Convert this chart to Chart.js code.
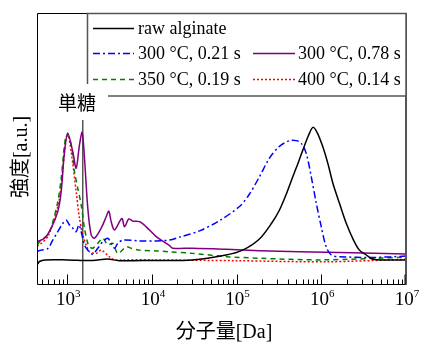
<!DOCTYPE html>
<html>
<head>
<meta charset="utf-8">
<script src="https://cdn.jsdelivr.net/npm/chart.js@4/dist/chart.umd.min.js"></script>
<style>
    html, body { margin: 0; padding: 0; background: #fff; }
    canvas { display: block; }
</style>
</head>
<body>
<canvas id="gpc" width="421" height="343"></canvas>
<script>
(function () {
    'use strict';

    // ── Data (molecular weight [Da] / intensity [a.u.]) ──────────────────────
    var SERIES_LABELS = ['raw alginate', '300 °C, 0.21 s', '300 °C, 0.78 s', '350 °C, 0.19 s', '400 °C, 0.14 s'];

    var rawM = [440, 470, 550, 1000, 2000, 3000, 4100, 10000, 30000, 75000, 118000, 186000, 260000, 321000, 390000,
                461000, 530000, 605000, 700000, 795000, 900000, 1040000, 1200000, 1370000, 1650000, 1970000,
                2400000, 2820000, 3400000, 4060000, 6000000, 10000000];
    var rawI = [7.0, 8.3, 8.9, 8.9, 8.7, 9.2, 8.6, 8.7, 8.9, 10.7, 12.5, 16.6, 22.5, 27.3, 33.5,
                39.6, 44.5, 49.4, 54.5, 57.8, 55.7, 50.7, 44.3, 37.2, 29.5, 22.4,
                16.2, 12.5, 10.7, 9.1, 8.9, 8.9];

    var t300sM = [440, 493, 590, 676, 774, 888, 973, 1065, 1164, 1276, 1371, 1462, 1600, 1750, 2005, 2297, 2632,
                  3014, 3306, 3616, 3953, 4528, 7144, 11250, 16150, 21180, 36480, 62800, 108200, 142000, 186300,
                  245000, 321000, 422000, 506000, 580000, 664000, 761000, 872000, 998000, 1140000, 1310000,
                  1640000, 4030000, 10000000];
    var t300sI = [12.0, 12.5, 13.1, 16.2, 19.3, 22.4, 23.6, 21.8, 20.6, 19.3, 21.8, 19.3, 14.4, 12.5, 11.0, 13.2, 15.6,
                  16.9, 15.0, 13.2, 15.0, 16.2, 15.9, 15.9, 16.2, 17.3, 19.6, 23.4, 28.6, 33.2, 39.6,
                  46.5, 50.8, 52.9, 52.9, 51.9, 48.2, 39.6, 29.8, 21.2, 13.8, 10.7,
                  10.1, 9.8, 10.3];

    var t300lM = [440, 540, 647, 774, 849, 929, 1016, 1164, 1276, 1396, 1503, 1600, 1750, 1919, 2100, 2518, 2886,
                  3097, 3306, 3616, 4413, 4750, 5338, 5955, 7144, 8570, 11250, 16150, 17660, 30410, 75400,
                  186300, 553000, 10000000];
    var t300lI = [15.6, 16.9, 20.6, 26.7, 34.1, 48.8, 55.6, 48.8, 42.7, 51.3, 56.0, 46.4, 28.0, 18.1, 16.9, 20.6, 24.8,
                  26.9, 23.0, 19.9, 24.2, 21.1, 24.0, 23.2, 23.0, 21.1, 17.5, 14.2, 13.2, 13.2, 12.8,
                  12.3, 11.9, 11.1];

    var t350M = [440, 493, 590, 676, 774, 849, 929, 989, 1115, 1219, 1334, 1462, 1600, 1750, 1833, 2005, 2297,
                 2632, 3014, 3451, 3953, 4977, 5702, 7144, 11250, 16150, 30410, 75400, 186300, 1030000, 10000000];
    var t350I = [14.4, 16.2, 18.1, 22.9, 30.3, 38.9, 51.3, 55.2, 51.3, 41.5, 35.3, 29.2, 20.6, 15.0, 13.7, 13.2, 15.0,
                 16.9, 14.4, 15.0, 11.3, 13.7, 13.2, 12.5, 12.2, 11.9, 11.3, 10.1, 9.5, 8.9, 9.9];

    var t400M = [440, 493, 590, 708, 811, 888, 973, 1016, 1115, 1276, 1396, 1528, 1675, 1833, 2198, 2518, 3155,
                 3616, 4528, 10000, 100000, 1140000, 10000000];
    var t400I = [14.0, 15.0, 17.5, 24.3, 31.6, 42.7, 53.8, 55.6, 48.8, 34.1, 24.3, 18.1, 14.4, 11.9, 11.3, 12.5, 10.0,
                 8.9, 8.9, 8.9, 8.6, 8.2, 9.1];

    // monosaccharide marker
    var MONO_MW = 1530;
    var MONO_TOP = 61;
    var MONO_LABEL = '単糖';

    var X_MIN = 440, X_MAX = 1e7;
    var Y_MIN = 0, Y_MAX = 100;
    var X_DECADES = [3, 4, 5, 6, 7];
    var X_TITLE = '分子量[Da]';
    var Y_TITLE = '強度[a.u.]';

    var SERIF = '"Liberation Serif", "Noto Sans CJK JP", serif';
    var CJK = '"Noto Sans CJK JP", sans-serif';

    function pts(ms, is) {
        return ms.map(function (m, i) { return { x: m, y: is[i] }; });
    }

    function series(label, ms, is, color, dash) {
        return {
            label: label, data: pts(ms, is),
            borderColor: color, borderWidth: 1.5, borderDash: dash,
            pointRadius: 0, fill: false, tension: 0.3
        };
    }

    var datasets = [
        series(SERIES_LABELS[0], rawM, rawI, '#000000', []),
        series(SERIES_LABELS[1], t300sM, t300sI, '#0000ff', [7, 3, 2, 3]),
        series(SERIES_LABELS[2], t300lM, t300lI, '#800080', []),
        series(SERIES_LABELS[3], t350M, t350I, '#008000', [5, 4]),
        series(SERIES_LABELS[4], t400M, t400I, '#ff0000', [2, 2]),
        {
            label: 'marker', data: [{ x: MONO_MW, y: Y_MIN }, { x: MONO_MW, y: MONO_TOP }],
            borderColor: '#000', borderWidth: 1, pointRadius: 0, fill: false
        }
    ];

    // ── Frame, ticks, titles, legend ─────────────────────────────────────────
    var decor = {
        id: 'decor',
        afterDraw: function (chart) {
            var ctx = chart.ctx;
            var a = chart.chartArea;
            var xs = chart.scales.x;
            var L = Math.round(a.left) + 0.5, R = Math.round(a.right), T = Math.round(a.top) + 0.5, B = Math.round(a.bottom) + 0.5;
            ctx.save();

            // frame
            ctx.strokeStyle = '#000';
            ctx.lineWidth = 1;
            ctx.beginPath();
            ctx.moveTo(R, B); ctx.lineTo(L, B); ctx.lineTo(L, T); ctx.lineTo(R, T);
            ctx.stroke();
            ctx.strokeStyle = '#555';
            ctx.lineWidth = 2;
            ctx.beginPath(); ctx.moveTo(R, T - 0.5); ctx.lineTo(R, B + 0.5); ctx.stroke();

            // inward ticks
            ctx.strokeStyle = '#000';
            ctx.lineWidth = 1;
            ctx.beginPath();
            for (var d = 2; d <= 7; d++) {
                for (var k = 1; k <= 9; k++) {
                    var v = k * Math.pow(10, d);
                    if (v < X_MIN || v > X_MAX) continue;
                    var px = Math.round(xs.getPixelForValue(v)) + 0.5;
                    if (px > R - 1) px = R - 1;
                    ctx.moveTo(px, B);
                    ctx.lineTo(px, B - (k === 1 ? 10 : 5));
                }
            }
            ctx.stroke();

            // tick labels 10^n
            ctx.fillStyle = '#000';
            ctx.textBaseline = 'alphabetic';
            X_DECADES.forEach(function (n) {
                var px = xs.getPixelForValue(Math.pow(10, n));
                ctx.font = '19px ' + SERIF;
                var w1 = ctx.measureText('10').width;
                ctx.font = '11px ' + SERIF;
                var w2 = ctx.measureText(String(n)).width;
                var x0 = px - (w1 + w2) / 2 + 1;
                ctx.font = '19px ' + SERIF;
                ctx.textAlign = 'left';
                ctx.fillText('10', x0, 305);
                ctx.font = '11px ' + SERIF;
                ctx.fillText(String(n), x0 + w1, 297);
            });

            // axis titles
            ctx.font = '20px ' + SERIF;
            ctx.textAlign = 'center';
            ctx.fillText(X_TITLE, 224, 338);
            ctx.save();
            ctx.translate(22, 157);
            ctx.rotate(-Math.PI / 2);
            ctx.textBaseline = 'middle';
            ctx.fillText(Y_TITLE, 0, 0);
            ctx.restore();

            // legend
            ctx.fillStyle = '#fff';
            ctx.fillRect(87, 13, 319, 83);
            ctx.strokeStyle = '#555';
            ctx.lineWidth = 1.5;
            ctx.strokeRect(87.5, 13.5, 318.5, 82.5);
            var cols = [{ x0: 93, x1: 134, tx: 138 }, { x0: 253, x1: 295, tx: 298 }];
            var rows = [28, 53, 79];
            var slots = [[0, 0], [0, 1], [1, 1], [0, 2], [1, 2]];
            slots.forEach(function (s, i) {
                var ds = chart.data.datasets[i];
                var c = cols[s[0]], y = rows[s[1]] + 0.5;
                ctx.strokeStyle = ds.borderColor;
                ctx.lineWidth = 1.5;
                ctx.setLineDash(ds.borderDash || []);
                ctx.beginPath(); ctx.moveTo(c.x0, y); ctx.lineTo(c.x1, y); ctx.stroke();
                ctx.setLineDash([]);
                ctx.fillStyle = '#000';
                ctx.font = '18px ' + SERIF;
                ctx.textAlign = 'left';
                ctx.textBaseline = 'middle';
                ctx.fillText(ds.label, c.tx, y + 1);
            });

            // monosaccharide label
            ctx.fillStyle = '#fff';
            ctx.fillRect(48, 84, 60, 36);
            ctx.fillStyle = '#000';
            ctx.font = '19px ' + CJK;
            ctx.textAlign = 'center';
            ctx.textBaseline = 'middle';
            ctx.fillText(MONO_LABEL, 77, 103);

            ctx.restore();
        }
    };

    new Chart(document.getElementById('gpc'), {
        type: 'line',
        data: { datasets: datasets },
        options: {
            responsive: false,
            animation: false,
            devicePixelRatio: 1,
            layout: { padding: { left: 37, right: 15, top: 13, bottom: 59 } },
            plugins: { legend: { display: false }, tooltip: { enabled: false } },
            scales: {
                x: { type: 'logarithmic', min: X_MIN, max: X_MAX, display: false },
                y: { type: 'linear', min: Y_MIN, max: Y_MAX, display: false }
            }
        },
        plugins: [decor]
    });
})();
</script>
</body>
</html>
